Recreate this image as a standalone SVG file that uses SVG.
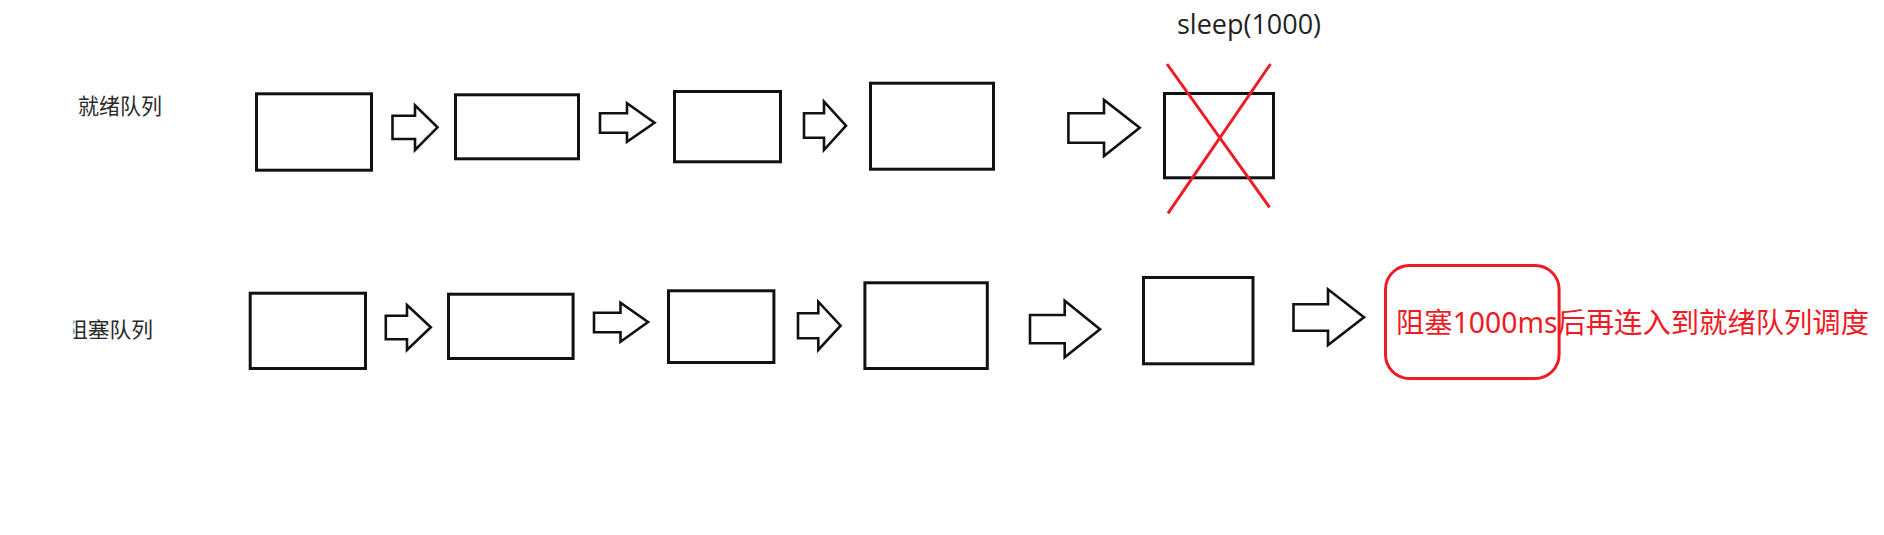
<svg xmlns="http://www.w3.org/2000/svg" width="1884" height="535" viewBox="0 0 1884 535">
  <style>
    .box { fill: #ffffff; stroke: #111111; stroke-width: 3; }
    .arr { fill: #ffffff; stroke: #111111; stroke-width: 2.6; stroke-linejoin: miter; }
    .lbl { font-family: "Noto Sans CJK SC", "Noto Sans", sans-serif; fill: #2a2a2a; }
    .red { stroke: #ED1C24; stroke-width: 3; fill: none; }
    .redtxt { font-family: "Noto Sans", "Noto Sans CJK SC", sans-serif; fill: #ED1C24; font-size: 28.5px; }
    .sleep { font-family: "Open Sans", "Noto Sans", sans-serif; fill: #222222; font-size: 27px; }
  </style>
  <defs>
    <clipPath id="clipL">
      <rect x="73.5" y="300" width="120" height="60"/>
    </clipPath>
  </defs>
  <rect width="1884" height="535" fill="#ffffff"/>

  <g id="label-ready"><text class="lbl" x="78" y="114" font-size="21.5" textLength="84" lengthAdjust="spacingAndGlyphs">就绪队列</text></g>
  <g id="label-blocked" clip-path="url(#clipL)"><text class="lbl" x="66" y="337" font-size="21" textLength="87" lengthAdjust="spacingAndGlyphs">阻塞队列</text></g>

  <!-- Row 1 nodes -->
  <g id="r1n1"><rect class="box" x="256.5" y="93.8" width="115" height="76.4"/></g>
  <g id="r1n2"><rect class="box" x="455.5" y="94.8" width="123" height="64"/></g>
  <g id="r1n3"><rect class="box" x="674.5" y="91.5" width="106" height="70.3"/></g>
  <g id="r1n4"><rect class="box" x="870.5" y="83.2" width="123" height="86"/></g>
  <g id="r1n5"><rect class="box" x="1164.5" y="93.5" width="109" height="84.3"/></g>
  <g id="r1x">
    <line class="red" x1="1167" y1="64" x2="1269.6" y2="207.3"/>
    <line class="red" x1="1270.5" y1="64" x2="1168" y2="213.3"/>
  </g>
  <g id="sleep-label"><text class="sleep" x="1177" y="34" textLength="144" lengthAdjust="spacingAndGlyphs">sleep(1000)</text></g>

  <!-- Row 2 nodes -->
  <g id="r2n1"><rect class="box" x="250.2" y="293.2" width="115.3" height="75.3"/></g>
  <g id="r2n2"><rect class="box" x="448.5" y="294.2" width="124.6" height="64.3"/></g>
  <g id="r2n3"><rect class="box" x="668.5" y="290.8" width="105.4" height="71.7"/></g>
  <g id="r2n4"><rect class="box" x="864.9" y="282.8" width="122.4" height="85.7"/></g>
  <g id="r2n5"><rect class="box" x="1143.5" y="277.5" width="109.5" height="86.3"/></g>
  <g id="r2note">
    <rect class="red" x="1385.5" y="265.5" width="173.6" height="113" rx="24" ry="24"/>
    <text class="redtxt" x="1396" y="333" textLength="473" lengthAdjust="spacingAndGlyphs">阻塞1000ms后再连入到就绪队列调度</text>
  </g>

  <!-- Connectors -->
  <g id="connectors">
    <polygon class="arr" points="392.5,115.7 415,115.7 415,105.3 437.5,127.3 415,150 415,139 392.5,139"/>
    <polygon class="arr" points="600,113.3 627,113.3 627,103.3 654.5,122.7 627,141.7 627,132.7 600,132.7"/>
    <polygon class="arr" points="804,113.3 824,113.3 824,101.7 846,125.7 824,150 824,137.7 804,137.7"/>
    <polygon class="arr" points="1068.4,113.3 1104,113.3 1104,100 1139.7,127.7 1104,156 1104,142.7 1068.4,142.7"/>

    <polygon class="arr" points="385.8,315.7 407,315.7 407,305 430.8,327.3 407,350 407,339.3 385.8,339.3"/>
    <polygon class="arr" points="594,312.7 620.5,312.7 620.5,302.7 648,322 620.5,341.7 620.5,332.3 594,332.3"/>
    <polygon class="arr" points="798,313.3 818.3,313.3 818.3,301.7 840.6,325.7 818.3,350 818.3,338.3 798,338.3"/>
    <polygon class="arr" points="1030,315 1064.7,315 1064.7,300.7 1100,329.3 1064.7,357.3 1064.7,343.3 1030,343.3"/>
    <polygon class="arr" points="1293.5,304.3 1328,304.3 1328,289.3 1364,317.3 1328,345 1328,330.7 1293.5,330.7"/>
  </g>
</svg>
